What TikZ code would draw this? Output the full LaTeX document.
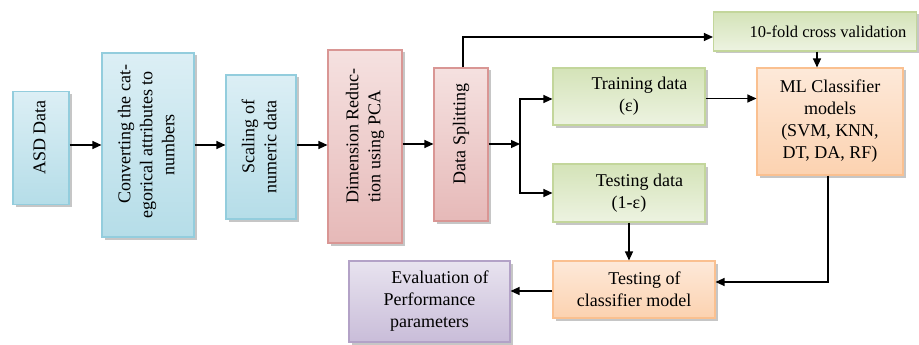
\documentclass[tikz,border=0pt]{standalone}
\usepackage{fontspec}
\setmainfont{Liberation Serif}
\usetikzlibrary{arrows.meta,shadows}
\definecolor{bluebd}{HTML}{93CDDD}
\definecolor{bluetop}{HTML}{DCEFF5}
\definecolor{bluebot}{HTML}{B5DDE8}
\definecolor{pinkbd}{HTML}{D99694}
\definecolor{pinktop}{HTML}{F5E1E0}
\definecolor{pinkbot}{HTML}{E6B9B8}
\definecolor{greenbd}{HTML}{C3D69B}
\definecolor{greentop}{HTML}{D4E3B8}
\definecolor{greenbot}{HTML}{EDF3E1}
\definecolor{orbd}{HTML}{FAC090}
\definecolor{ortop}{HTML}{FDE9D9}
\definecolor{orbot}{HTML}{FCD2B0}
\definecolor{purbd}{HTML}{B3A2C7}
\definecolor{purtop}{HTML}{E8E3EF}
\definecolor{purbot}{HTML}{C9BDD9}
\newcommand{\vtext}[1]{\rotatebox{90}{\begin{tabular}{@{}c@{}}#1\end{tabular}}}
\newcommand{\fl}[1]{\makebox[0pt]{\hspace*{21pt}#1}}
\newcommand{\ol}[1]{\makebox[0pt]{#1}}
\begin{document}
\begin{tikzpicture}[x=1pt,y=-1pt,
  box/.style={draw, line width=1.1pt, inner sep=0pt, align=center,
    font=\fontsize{18}{22}\selectfont,
    drop shadow={shadow xshift=2.5pt, shadow yshift=-2.5pt, opacity=0.45}},
  bluebox/.style={box, draw=bluebd, top color=bluetop, bottom color=bluebot},
  pinkbox/.style={box, draw=pinkbd, top color=pinktop, bottom color=pinkbot},
  greenbox/.style={box, draw=greenbd, top color=greentop, bottom color=greenbot},
  orbox/.style={box, draw=orbd, top color=ortop, bottom color=orbot},
  purbox/.style={box, draw=purbd, top color=purtop, bottom color=purbot},
  arr/.style={draw=black, line width=1.2pt, -{Triangle[length=9pt,width=8pt]}}]
\useasboundingbox (0,0) rectangle (919,345);

\node[bluebox, minimum width=56pt, minimum height=113pt] (asd) at (41,148)
  {\vtext{\fl{ASD Data}}};
\node[bluebox, minimum width=92pt, minimum height=184pt] (conv) at (148,145)
  {\vtext{\fl{Converting the cat-}\\\ol{egorical attributes to}\\\ol{numbers}}};
\node[bluebox, minimum width=70pt, minimum height=144pt] (scal) at (261,147)
  {\vtext{\fl{Scaling of}\\\ol{numeric data}}};
\node[pinkbox, minimum width=74pt, minimum height=193pt] (dim) at (365,146.5)
  {\vtext{\fl{Dimension Reduc-}\\\ol{tion using PCA}}};
\node[pinkbox, minimum width=54pt, minimum height=153pt] (split) at (461,144.5)
  {\vtext{\fl{Data Splitting}}};
\node[greenbox, minimum width=152pt, minimum height=57pt] (train) at (629,96.5)
  {\hspace*{21pt}Training data\\(ε)};
\node[greenbox, minimum width=152pt, minimum height=58pt] (test) at (629,193)
  {\hspace*{21pt}Testing data\\(1-ε)};
\node[greenbox, minimum width=203pt, minimum height=39pt, font=\fontsize{16.5}{20}\selectfont] (fold) at (815,31.5)
  {\hspace*{26pt}10-fold cross validation};
\node[orbox, minimum width=146pt, minimum height=107pt] (ml) at (830,121.5)
  {ML Classifier\\models\\(SVM, KNN,\\DT, DA, RF)};
\node[orbox, minimum width=162pt, minimum height=57pt] (tcm) at (634,289.5)
  {\hspace*{21pt}Testing of\\classifier model};
\node[purbox, minimum width=161pt, minimum height=81pt] (eval) at (429.5,301.5)
  {\hspace*{21pt}Evaluation of\\Performance\\parameters};

\coordinate (br) at (520,144);
\draw[arr] (asd.east |- conv.west) -- (conv.west);
\draw[arr] (conv.east) -- (conv.east -| scal.west);
\draw[arr] (scal.east |- conv.east) -- (dim.west |- conv.east);
\draw[arr] (dim.east |- br) -- (split.west |- br);
\draw[arr] (split.east |- br) -- (br);
\draw[arr] (br) |- ([yshift=-2.5pt]train.west);
\draw[arr] (br) |- (test.west);
\draw[arr] ([xshift=2pt]split.north) |- ([yshift=-5.5pt]fold.west);
\draw[arr] ([xshift=2pt]fold.south) -- ([xshift=2pt]fold.south |- ml.north);
\draw[arr] ([yshift=-2pt]train.east) -- ([yshift=-2pt]train.east -| ml.west);
\draw[arr] ([xshift=-2pt]ml.south) |- ([yshift=7.5pt]tcm.east);
\draw[arr] (test.south) -- (test.south |- tcm.north);
\draw[arr] ([yshift=-1.5pt]tcm.west) -- ([yshift=-1.5pt]tcm.west -| eval.east);
\end{tikzpicture}
\end{document}
